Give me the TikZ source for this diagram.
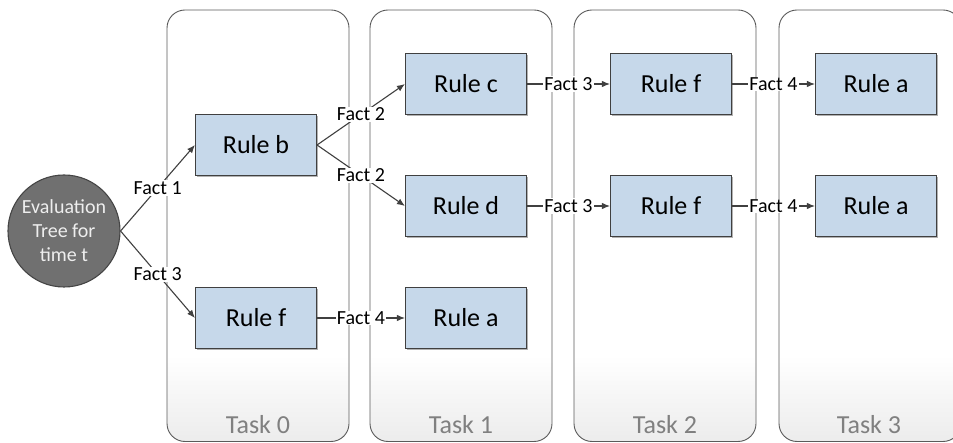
\documentclass[tikz,border=0pt]{standalone}
\usepackage{fontspec}
\setmainfont{Carlito}
\usetikzlibrary{arrows.meta,shadows}
\definecolor{rulefill}{HTML}{C6D8EA}
\definecolor{edgeline}{HTML}{404040}
\definecolor{panelline}{HTML}{5A5A5A}
\definecolor{panelbottom}{HTML}{ECECEC}
\definecolor{evalfill}{HTML}{707070}
\definecolor{evalline}{HTML}{454545}
\definecolor{evaltext}{HTML}{EEEEEE}
\definecolor{tasktext}{HTML}{808080}
% white over most of the panel, fading to light grey near its foot
\pgfdeclareverticalshading{panelshade}{100bp}{color(0bp)=(panelbottom); color(25bp)=(panelbottom); color(35bp)=(white); color(100bp)=(white)}
\begin{document}
\begin{tikzpicture}[x=1pt,y=-1pt,
  panel/.style={draw=panelline, line width=0.9pt, rounded corners=18pt,
    shading=panelshade},
  tasklabel/.style={anchor=base, text=tasktext, font=\fontsize{26}{30}\selectfont},
  rulebox/.style={draw=edgeline, line width=1.1pt, fill=rulefill,
    minimum width=121pt, minimum height=61pt, inner sep=0pt,
    font=\fontsize{26}{30}\selectfont,
    drop shadow={shadow xshift=1.6pt, shadow yshift=-1.6pt, fill=black!30, opacity=1}},
  evalnode/.style={circle, minimum size=112pt, inner sep=0pt, fill=evalfill,
    draw=evalline, line width=1.1pt, text=evaltext, align=center,
    font=\fontsize{20}{24}\selectfont},
  fact/.style={fill=white, inner sep=1pt, font=\fontsize{20}{24}\selectfont},
  link/.style={draw=edgeline, line width=1.1pt, -{Latex[length=8pt,width=6.5pt]}}]
\useasboundingbox (0,0) rectangle (953,443);
\clip (0,0) rectangle (953,443);

% task panels
\path[panel] (167,10) rectangle (349,441.5);
\path[panel] (370,10) rectangle (552,441.5);
\path[panel] (574,10) rectangle (756,441.5);
\path[panel] (779,10) rectangle (961,441.5);
\node[tasklabel] (t0) at (258,433) {Task 0};
\node[tasklabel] (t1) at (461,433) {Task 1};
\node[tasklabel] (t2) at (665,433) {Task 2};
\node[tasklabel] (t3) at (869,433) {Task 3};

% evaluation root
\node[evalnode] (eval) at (64,231) {Evaluation\\Tree for\\time t};

% rules
\node[rulebox] (rb)  at (256,145) {Rule b};
\node[rulebox] (rf0) at (256,318) {Rule f};
\node[rulebox] (rc)  at (466,84)  {Rule c};
\node[rulebox] (rd)  at (466,206) {Rule d};
\node[rulebox] (ra1) at (466,318) {Rule a};
\node[rulebox] (rf1) at (671,84)  {Rule f};
\node[rulebox] (rf2) at (671,206) {Rule f};
\node[rulebox] (ra2) at (876,84)  {Rule a};
\node[rulebox] (ra3) at (876,206) {Rule a};

% fact links
\draw[link] (eval.east) -- node[fact] {Fact 1} (rb.west);
\draw[link] (eval.east) -- node[fact] {Fact 3} (rf0.west);
\draw[link] (rb.east) -- node[fact] {Fact 2} (rc.west);
\draw[link] (rb.east) -- node[fact] {Fact 2} (rd.west);
\draw[link] (rf0.east) -- node[fact] {Fact 4} (ra1.west);
\draw[link] (rc.east) -- node[fact] {Fact 3} (rf1.west);
\draw[link] (rd.east) -- node[fact] {Fact 3} (rf2.west);
\draw[link] (rf1.east) -- node[fact] {Fact 4} (ra2.west);
\draw[link] (rf2.east) -- node[fact] {Fact 4} (ra3.west);
\end{tikzpicture}
\end{document}
